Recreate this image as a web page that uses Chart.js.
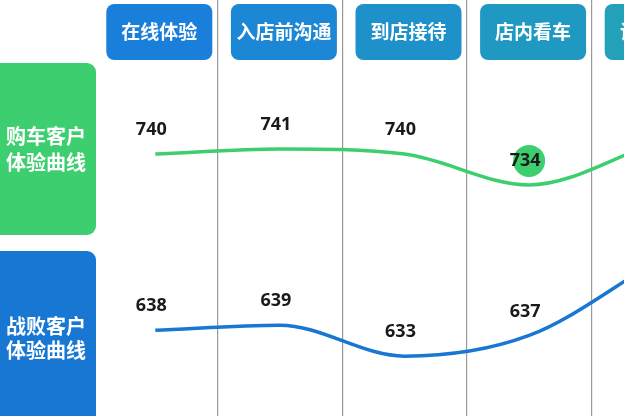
<!DOCTYPE html>
<html>
<head>
<meta charset="utf-8">
<script src="https://cdn.jsdelivr.net/npm/chart.js@4.4.1/dist/chart.umd.min.js"></script>
<style>
  html, body { margin: 0; padding: 0; background: #fff; overflow: hidden; }
  #wrap { position: relative; width: 716px; height: 416px; }
</style>
</head>
<body>
<div id="wrap"><canvas id="chart"></canvas></div>
<script>
// stages of the customer journey (the 5th one is cut off by the frame)
const stages = ['在线体验', '入店前沟通', '到店接待', '店内看车', '试乘试驾'];
const stageColors = ['#1a7fda', '#1c87d4', '#1e91ca', '#2099c2', '#23a1b8'];

const buyerLabel = ['购车客户', '体验曲线'];
const lostLabel = ['战败客户', '体验曲线'];

const buyerScores = [740, 741, 740, 734, 742];
const lostScores = [638, 639, 633, 637, 651];

// which points get the round badge behind their value
const buyerBadge = [3];

const GREEN = '#3dcf6f';
const BLUE = '#1877d2';
const CJK = '"Noto Sans CJK SC", "Noto Sans", sans-serif';

const roundBox = (ctx, x, y, w, h, r, color) => {
    ctx.fillStyle = color;
    ctx.beginPath();
    ctx.roundRect(x, y, w, h, r);
    ctx.fill();
};

// headers on top of each column and the two row labels on the left
const framePlugin = {
    id: 'frame',
    afterDraw(chart) {
        const { ctx, scales: { x } } = chart;
        ctx.save();
        ctx.textAlign = 'center';
        ctx.textBaseline = 'middle';

        ctx.font = 'bold 19px ' + CJK;
        stages.forEach((s, i) => {
            const cx = x.getPixelForValue(i) + 4;
            roundBox(ctx, cx - 53, 4, 106, 56, 8, stageColors[i]);
            ctx.fillStyle = '#fff';
            ctx.fillText(s, cx, 32);
        });

        ctx.font = 'bold 20px ' + CJK;
        roundBox(ctx, -10, 63, 106, 172, 9, GREEN);
        ctx.fillStyle = '#fff';
        ctx.fillText(buyerLabel[0], 46, 136);
        ctx.fillText(buyerLabel[1], 46, 162);

        roundBox(ctx, -10, 251, 106, 190, 9, BLUE);
        ctx.fillStyle = '#fff';
        ctx.fillText(lostLabel[0], 46, 326);
        ctx.fillText(lostLabel[1], 46, 350);
        ctx.restore();
    }
};

// value labels above the points
const valuePlugin = {
    id: 'values',
    afterDatasetsDraw(chart) {
        const { ctx } = chart;
        ctx.save();
        ctx.textAlign = 'center';
        ctx.textBaseline = 'middle';
        ctx.font = 'bold 18px "Open Sans", sans-serif';
        chart.data.datasets.forEach((ds, di) => {
            chart.getDatasetMeta(di).data.forEach((pt, i) => {
                const y = pt.y - 24;
                if (ds.badges && ds.badges.includes(i)) {
                    ctx.fillStyle = ds.borderColor;
                    ctx.beginPath();
                    ctx.arc(pt.x, y, 16, 0, Math.PI * 2);
                    ctx.fill();
                }
                ctx.fillStyle = '#1a1a1a';
                ctx.fillText(ds.data[i], pt.x - 4, y);
            });
        });
        ctx.restore();
    }
};

new Chart('chart', {
    type: 'line',
    data: {
        labels: stages,
        datasets: [
            {
                label: '购车客户体验曲线',
                data: buyerScores,
                badges: buyerBadge,
                borderColor: GREEN,
                borderWidth: 3.5,
                yAxisID: 'y',
            },
            {
                label: '战败客户体验曲线',
                data: lostScores,
                borderColor: BLUE,
                borderWidth: 3.5,
                yAxisID: 'y2',
            }
        ]
    },
    options: {
        responsive: true,
        maintainAspectRatio: false,
        animation: false,
        layout: { padding: { left: 93, right: 0, top: 0, bottom: 0 } },
        elements: {
            point: { radius: 0, hoverRadius: 0 },
            line: { cubicInterpolationMode: 'monotone' }
        },
        plugins: {
            legend: { display: false },
            tooltip: { enabled: false }
        },
        scales: {
            x: {
                offset: true,
                ticks: { display: false },
                border: { display: false },
                grid: {
                    offset: true,
                    drawTicks: false,
                    lineWidth: 1.2,
                    color: (c) => c.index === 0 ? 'rgba(0,0,0,0)' : '#9a9a9a'
                }
            },
            y: { display: false, min: 689, max: 770 },
            y2: { display: false, min: 621.4, max: 702 }
        }
    },
    plugins: [framePlugin, valuePlugin]
});
</script>
</body>
</html>
